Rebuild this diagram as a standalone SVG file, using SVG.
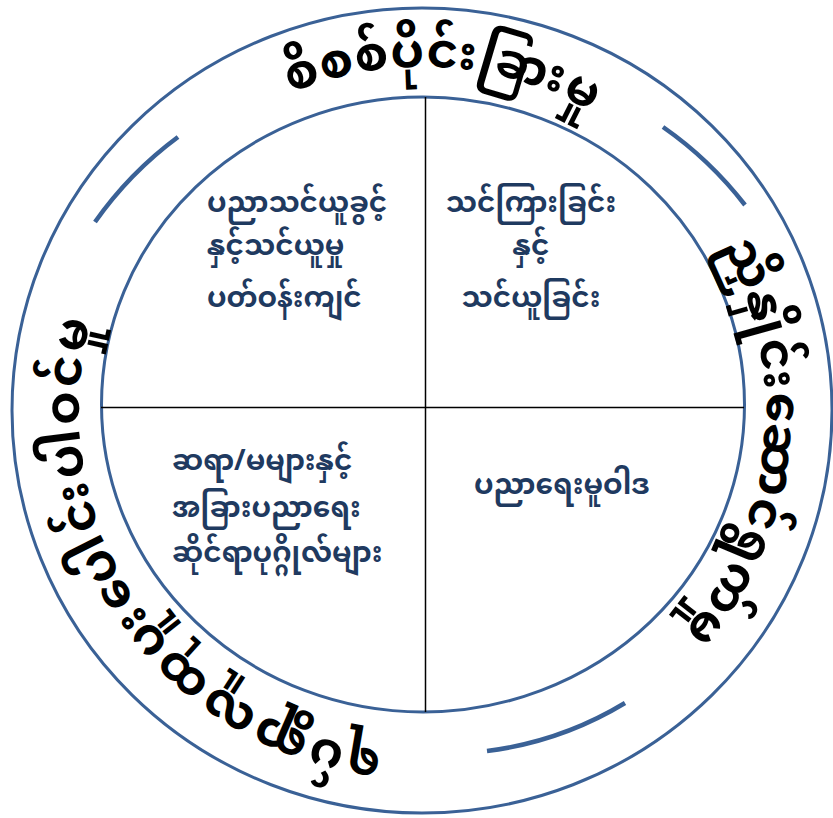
<svg xmlns="http://www.w3.org/2000/svg" width="833" height="818" viewBox="0 0 833 818">
<style>
.ring{fill:none;stroke:#3A6196;stroke-width:3}
.sep{fill:none;stroke:#3A6196;stroke-width:4.5}
.div{stroke:#000;stroke-width:1.5}
.q{font-family:"Noto Sans Myanmar","Padauk","Myanmar Text","Noto Sans",sans-serif;font-size:28px;font-weight:bold;fill:#1F3A60}
.o{font-family:"Noto Sans Myanmar","Padauk","Myanmar Text","Noto Sans",sans-serif;font-size:48px;font-weight:bold;fill:#000;letter-spacing:1px}
.wide{letter-spacing:3px}
</style>
<defs>
<path id="tp" d="M 642.48 672.75 A 343 343 0 0 1 201.52 147.25 A 343 343 0 0 1 642.48 672.75"/>
</defs>
<g id="outer-ring"><ellipse class="ring" cx="422" cy="410.5" rx="410" ry="402.5"/></g>
<g id="inner-circle"><ellipse class="ring" cx="423" cy="404.5" rx="321.5" ry="307.5"/></g>
<g id="connectors">
<line class="div" x1="425.5" y1="97" x2="425.5" y2="712"/>
<line class="div" x1="101" y1="407.5" x2="744" y2="407.5"/>
<path class="sep" d="M 95 222 A 372 372 0 0 1 178 137"/>
<path class="sep" d="M 663 127 A 375 375 0 0 1 745 205"/>
<path class="sep" d="M 625 703 A 352 352 0 0 1 487 751"/>
</g>
<g id="q1"><text class="q" x="207"><tspan x="207" y="212">ပညာသင်ယူခွင့်</tspan><tspan x="207" y="255">နှင့်သင်ယူမှု</tspan><tspan x="207" y="307">ပတ်ဝန်းကျင်</tspan></text></g>
<g id="q2"><text class="q" text-anchor="middle"><tspan x="531" y="212">သင်ကြားခြင်း</tspan><tspan x="531" y="255">နှင့်</tspan><tspan x="531" y="307">သင်ယူခြင်း</tspan></text></g>
<g id="q3"><text class="q"><tspan x="172" y="470">ဆရာ/မများနှင့်</tspan><tspan x="172" y="517">အခြားပညာရေး</tspan><tspan x="172" y="562">ဆိုင်ရာပုဂ္ဂိုလ်များ</tspan></text></g>
<g id="q4"><text class="q" text-anchor="middle" x="562" y="494">ပညာရေးမူဝါဒ</text></g>
<g id="ring-top"><text class="o" text-anchor="middle"><textPath href="#tp" startOffset="1338">စိစစ်ပိုင်းခြားမှု</textPath></text></g>
<g id="ring-right"><text class="o" text-anchor="middle"><textPath href="#tp" startOffset="1890">ညှိနှိုင်းဆောင်ရွက်မှု</textPath></text></g>
<g id="ring-bottom-left"><text class="o wide" text-anchor="middle"><textPath href="#tp" startOffset="575">ရပ်ရွာလူထုပူးပေါင်းပါဝင်မှု</textPath></text></g>
</svg>
